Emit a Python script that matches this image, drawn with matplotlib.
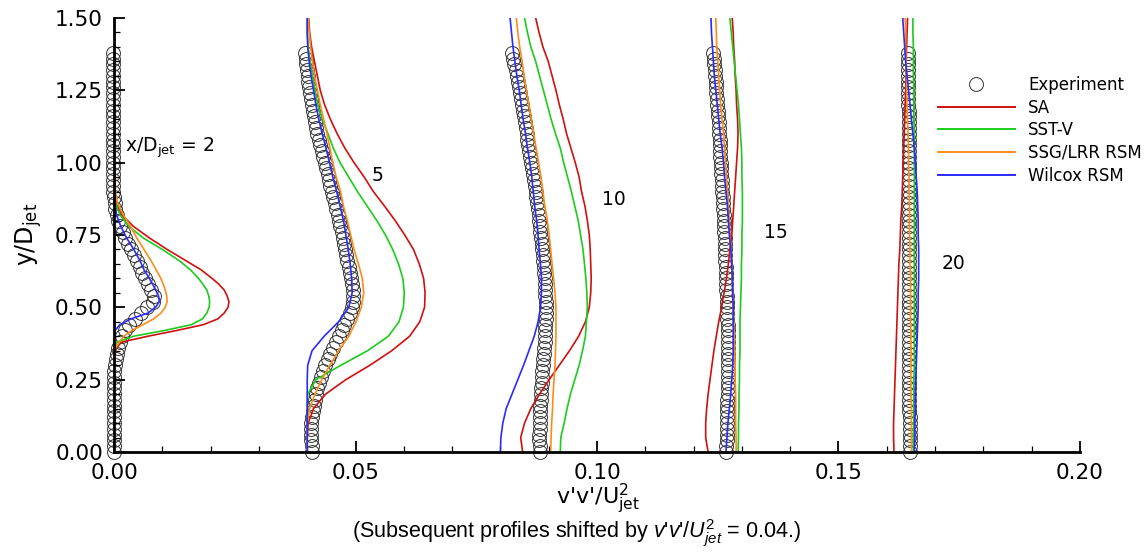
import matplotlib
matplotlib.use("Agg")
import matplotlib.pyplot as plt
from matplotlib.lines import Line2D
from matplotlib.ticker import MultipleLocator, FormatStrFormatter

plt.rcParams['font.family'] = ['DejaVu Sans']
plt.rcParams['mathtext.fontset'] = 'custom'
plt.rcParams['mathtext.rm'] = 'Liberation Sans'
plt.rcParams['mathtext.it'] = 'Liberation Sans:italic'

# profiles are offset by this amount (as stated in the caption)
SHIFT = 0.04
stations = ['2', '5', '10', '15', '20']

# y/D_jet sampling of the experiment and of the model curves
y_exp = [round(0.02 * i, 2) for i in range(70)]
y_mod = [round(0.05 * i, 2) for i in range(31)]
y_mod_2 = [0.0, 0.1, 0.2, 0.3, 0.34, 0.36, 0.38, 0.40, 0.42, 0.44, 0.46, 0.48, 0.50,
           0.52, 0.54, 0.56, 0.58, 0.60, 0.63, 0.66, 0.70, 0.74, 0.78, 0.82, 0.86,
           0.90, 0.95, 1.0, 1.1, 1.2, 1.3, 1.4, 1.5]

# ---- x/D = 2 ----
exp_2 = [0, 0, 0, 0, 0, 0, 0, 0, 0, 0,
         0, 0, 0, 0, 0, .0002, .0004, .0007, .0009, .0012,
         .0017, .0023, .0032, .0043, .0056, .0069, .0080, .0082, .0077, .0071,
         .0065, .0058, .0053, .0048, .0042, .0036, .0029, .0023, .0018, .0013,
         .0009, .0006, .0003, .0001, -.0001, -.0002, -.0002, -.0002, -.0002, -.0002,
         -.0002, -.0002, -.0002, -.0002, -.0002, -.0002, -.0002, -.0002, -.0002, -.0002,
         -.0002, -.0002, -.0002, -.0002, -.0002, -.0002, -.0002, -.0002, -.0002, -.0002]
sa_2 = [0, 0, 0, 0, .0002, .0005, .0016, .0070, .0130, .0185, .0215, .0228, .0236,
        .0238, .0234, .0228, .0217, .0203, .0180, .0150, .0110, .0073, .0040, .0016,
        .0005, .0002, 0, 0, 0, 0, 0, 0, 0]
sst_2 = [0, 0, 0, 0, 0, .0002, .0006, .0040, .0105, .0160, .0183, .0192, .0197,
         .0198, .0196, .0192, .0184, .0175, .0158, .0136, .0100, .0060, .0031, .0012,
         .0003, .0001, 0, 0, 0, 0, 0, 0, 0]
ssg_2 = [0, 0, 0, 0, 0, .0003, .0011, .0020, .0037, .0060, .0082, .0097, .0106,
         .0110, .0109, .0106, .0102, .0097, .0087, .0077, .0062, .0047, .0034, .0019,
         .0007, .0003, .0002, .0001, .0001, 0, 0, 0, 0]
wil_2 = [0, 0, 0, 0, 0, 0, 0, 0, .0002, .0012, .0035, .0070, .0086,
         .0094, .0092, .0086, .0080, .0073, .0062, .0054, .0041, .0026, .0014, .0005,
         .0002, .0001, 0, 0, 0, 0, 0, 0, 0]

# ---- x/D = 5 ----
exp_5 = [.0010, .0009, .0008, .0008, .0008, .0008, .0010, .0012, .0014, .0016,
         .0018, .0021, .0025, .0029, .0033, .0037, .0042, .0047, .0053, .0059,
         .0065, .0071, .0077, .0083, .0088, .0092, .0094, .0095, .0094, .0092,
         .0090, .0088, .0086, .0083, .0081, .0079, .0077, .0074, .0071, .0068,
         .0066, .0063, .0060, .0057, .0054, .0051, .0048, .0045, .0042, .0039,
         .0036, .0033, .0030, .0027, .0024, .0021, .0019, .0016, .0014, .0012,
         .0010, .0008, .0006, .0004, .0002, .0001, 0, -.0002, -.0003, -.0004]
sa_5 = [0, 0, .0002, .0013, .0038, .0080, .0130, .0175, .0212, .0233, .0243, .0244,
        .0241, .0232, .0220, .0202, .0182, .0160, .0137, .0118, .0097, .0078, .0062,
        .0048, .0036, .0027, .0021, .0015, .0009, .0005, .0003]
sst_5 = [0, 0, 0, 0, .0001, .0018, .0070, .0125, .0168, .0190, .0199, .0201,
         .0198, .0189, .0177, .0162, .0144, .0124, .0104, .0086, .0068, .0054, .0043,
         .0031, .0022, .0016, .0011, .0006, .0002, 0, 0]
ssg_5 = [0, 0, 0, .0005, .0016, .0030, .0047, .0065, .0086, .0101, .0112, .0117,
         .0114, .0106, .0097, .0090, .0083, .0075, .0069, .0060, .0053, .0047, .0041,
         .0034, .0027, .0021, .0015, .0011, .0007, .0004, .0002]
wil_5 = [0, 0, 0, 0, 0, 0, .0001, .0010, .0035, .0065, .0086, .0093,
         .0092, .0089, .0085, .0080, .0075, .0068, .0061, .0053, .0046, .0039, .0031,
         .0024, .0018, .0013, .0008, .0004, .0001, 0, 0]

# ---- x/D = 10 ----
exp_10 = [.0082, .0081, .0080, .0080, .0081, .0081, .0082, .0082, .0083, .0084,
          .0085, .0085, .0086, .0087, .0087, .0088, .0089, .0090, .0091, .0092,
          .0092, .0093, .0093, .0094, .0094, .0094, .0094, .0093, .0093, .0092,
          .0092, .0091, .0090, .0089, .0088, .0087, .0086, .0085, .0083, .0082,
          .0080, .0079, .0077, .0076, .0074, .0073, .0071, .0069, .0067, .0066,
          .0064, .0062, .0060, .0058, .0056, .0055, .0053, .0051, .0049, .0047,
          .0045, .0043, .0041, .0039, .0037, .0035, .0032, .0029, .0026, .0023]
sa_10 = [.0046, .0042, .0050, .0063, .0081, .0101, .0122, .0143, .0162, .0176, .0184,
         .0187, .0188, .0187, .0186, .0184, .0180, .0175, .0168, .0163, .0155, .0146,
         .0137, .0130, .0122, .0115, .0107, .0099, .0088, .0080, .0073]
sst_10 = [.0124, .0125, .0132, .0138, .0145, .0154, .0163, .0170, .0176, .0178, .0180,
          .0179, .0177, .0174, .0171, .0166, .0161, .0154, .0147, .0139, .0131, .0124,
          .0114, .0105, .0097, .0089, .0081, .0073, .0063, .0056, .0050]
ssg_10 = [.0104, .0105, .0106, .0108, .0109, .0111, .0113, .0114, .0115, .0115, .0115,
          .0113, .0110, .0107, .0104, .0101, .0097, .0092, .0088, .0084, .0079, .0074,
          .0069, .0064, .0059, .0054, .0049, .0045, .0040, .0036, .0033]
wil_10 = [0, .0001, .0005, .0012, .0024, .0036, .0048, .0059, .0070, .0078, .0083,
          .0085, .0085, .0083, .0080, .0078, .0075, .0071, .0068, .0065, .0061, .0056,
          .0052, .0047, .0043, .0039, .0034, .0030, .0026, .0023, .0020]

# ---- x/D = 15 ----
exp_15 = [.0068, .0068, .0069, .0069, .0069, .0069, .0069, .0070, .0070, .0070,
          .0071, .0071, .0071, .0072, .0072, .0072, .0072, .0072, .0072, .0072,
          .0072, .0071, .0071, .0070, .0070, .0070, .0069, .0069, .0068, .0068,
          .0067, .0067, .0067, .0066, .0066, .0065, .0065, .0064, .0063, .0063,
          .0062, .0062, .0061, .0060, .0060, .0059, .0058, .0058, .0057, .0056,
          .0056, .0055, .0055, .0054, .0054, .0053, .0052, .0052, .0051, .0050,
          .0049, .0048, .0047, .0047, .0046, .0045, .0044, .0043, .0042, .0041]
sa_15 = [.0030, .0025, .0025, .0027, .0030, .0034, .0038, .0042, .0047, .0052, .0058,
         .0063, .0068, .0072, .0075, .0079, .0081, .0083, .0085, .0087, .0089, .0091,
         .0092, .0091, .0089, .0088, .0086, .0085, .0083, .0082, .0080]
sst_15 = [.0092, .0093, .0093, .0094, .0094, .0095, .0095, .0096, .0096, .0096, .0097,
          .0098, .0099, .0099, .0100, .0100, .0101, .0101, .0101, .0100, .0100, .0099,
          .0097, .0095, .0093, .0090, .0087, .0084, .0081, .0078, .0075]
ssg_15 = [.0088, .0088, .0087, .0087, .0087, .0086, .0086, .0085, .0084, .0083, .0082,
          .0081, .0080, .0079, .0077, .0075, .0074, .0072, .0070, .0068, .0066, .0064,
          .0062, .0059, .0056, .0054, .0052, .0050, .0048, .0047, .0046]
wil_15 = [.0067, .0069, .0071, .0074, .0077, .0079, .0081, .0082, .0082, .0082, .0082,
          .0081, .0080, .0079, .0077, .0074, .0072, .0070, .0067, .0064, .0062, .0059,
          .0055, .0052, .0049, .0046, .0043, .0041, .0039, .0037, .0036]

# ---- x/D = 20 ----
exp_20 = [.0048, .0048, .0048, .0048, .0048, .0048, .0048, .0047, .0047, .0047,
          .0047, .0047, .0047, .0047, .0047, .0047, .0047, .0047, .0047, .0047,
          .0046, .0046, .0046, .0046, .0046, .0046, .0046, .0046, .0046, .0046,
          .0046, .0046, .0046, .0046, .0046, .0046, .0046, .0046, .0046, .0046,
          .0046, .0046, .0046, .0046, .0046, .0046, .0046, .0046, .0046, .0046,
          .0046, .0046, .0046, .0045, .0045, .0045, .0045, .0045, .0045, .0045,
          .0044, .0044, .0044, .0044, .0044, .0043, .0043, .0043, .0043, .0043]
sa_20 = [.0015, .0014, .0014, .0015, .0016, .0017, .0018, .0019, .0020, .0021, .0022,
         .0023, .0024, .0025, .0027, .0028, .0029, .0031, .0032, .0033, .0034, .0035,
         .0036, .0037, .0038, .0039, .0040, .0040, .0041, .0042, .0043]
sst_20 = [.0055, .0055, .0056, .0056, .0056, .0056, .0057, .0057, .0057, .0057, .0057,
          .0057, .0057, .0057, .0057, .0057, .0057, .0057, .0057, .0057, .0057, .0057,
          .0057, .0056, .0056, .0056, .0055, .0055, .0055, .0054, .0054]
ssg_20 = [.0051, .0051, .0051, .0051, .0050, .0050, .0050, .0050, .0050, .0049, .0049,
          .0049, .0049, .0048, .0048, .0047, .0047, .0047, .0046, .0046, .0045, .0045,
          .0044, .0043, .0042, .0041, .0041, .0040, .0039, .0039, .0038]
wil_20 = [.0057, .0058, .0058, .0059, .0059, .0060, .0061, .0062, .0063, .0064, .0065,
          .0065, .0066, .0066, .0066, .0065, .0065, .0064, .0063, .0061, .0059, .0057,
          .0054, .0051, .0048, .0045, .0042, .0039, .0037, .0035, .0033]

exp_all = [exp_2, exp_5, exp_10, exp_15, exp_20]
sa_all = [sa_2, sa_5, sa_10, sa_15, sa_20]
sst_all = [sst_2, sst_5, sst_10, sst_15, sst_20]
ssg_all = [ssg_2, ssg_5, ssg_10, ssg_15, ssg_20]
wil_all = [wil_2, wil_5, wil_10, wil_15, wil_20]
y_grids = [y_mod_2, y_mod, y_mod, y_mod, y_mod]

models = ['SA', 'SST-V', 'SSG/LRR RSM', 'Wilcox RSM']
colors = ['#d01010', '#1ccc1c', '#ff8c1a', '#2a2aff']

# station label positions (data coords)
label_x = [0.0023, 0.0534, 0.101, 0.1346, 0.1714]
label_y = [1.05, 0.957, 0.874, 0.757, 0.65]

fig = plt.figure(figsize=(11.46, 5.52), dpi=100)
ax = fig.add_axes([0.0995, 0.1812, 0.8429, 0.7862])

for i in range(5):
    off = i * SHIFT
    ax.plot([v + off for v in exp_all[i]], y_exp, 'o', ms=10, mfc='none',
            mec='#333333', mew=0.7, zorder=1.5, clip_on=False)
    for vals, col in zip([sa_all[i], sst_all[i], ssg_all[i], wil_all[i]], colors):
        ax.plot([v + off for v in vals], y_grids[i], color=col, lw=1.2, zorder=2)

for i, st in enumerate(stations):
    if i == 0:
        txt = r"x/$\mathrm{D}_{\mathrm{jet}}$ = " + st
    else:
        txt = st
    ax.text(label_x[i], label_y[i], txt, fontsize=13.5, ha='left', va='center',
            math_fontfamily='dejavusans')

ax.set_xlim(0, 0.20)
ax.set_ylim(0, 1.5)
ax.xaxis.set_major_locator(MultipleLocator(0.05))
ax.xaxis.set_minor_locator(MultipleLocator(0.01))
ax.yaxis.set_major_locator(MultipleLocator(0.25))
ax.yaxis.set_minor_locator(MultipleLocator(0.05))
ax.xaxis.set_major_formatter(FormatStrFormatter('%.2f'))
ax.yaxis.set_major_formatter(FormatStrFormatter('%.2f'))
ax.tick_params(which='both', direction='in', top=False, right=False, labelsize=15.5)
ax.tick_params(which='major', length=8, width=1.3, pad=8)
ax.tick_params(which='minor', length=4, width=0.9)
ax.spines['top'].set_visible(False)
ax.spines['right'].set_visible(False)
ax.spines['left'].set_linewidth(2)
ax.spines['bottom'].set_linewidth(2)

fig.text(0.5215, 0.097, r"v'v'/$\mathrm{U}_{\mathrm{jet}}^{2}$", fontsize=16,
         ha='center', va='center', math_fontfamily='dejavusans')
fig.text(0.025, 0.575, r"y/$\mathrm{D}_{\mathrm{jet}}$", fontsize=17, rotation=90,
         ha='center', va='center', math_fontfamily='dejavusans')
fig.text(0.503, 0.033, r"(Subsequent profiles shifted by $v$'$v$'$/U_{jet}^{2}$ = 0.04.)",
         fontsize=15.5, family='Liberation Sans', ha='center', va='center')

handles = [Line2D([], [], ls='none', marker='o', ms=10, mfc='none', mec='#333333', mew=0.7)]
handles += [Line2D([], [], color=c, lw=1.4) for c in colors]
fig.legend(handles, ['Experiment'] + models, loc='upper left',
           bbox_to_anchor=(938 / 1146, 1 - 76 / 552), frameon=False, fontsize=12,
           handlelength=4.6, handletextpad=0.8, labelspacing=0.28,
           borderpad=0, borderaxespad=0, numpoints=1)

fig.savefig('out.png', dpi=100)
